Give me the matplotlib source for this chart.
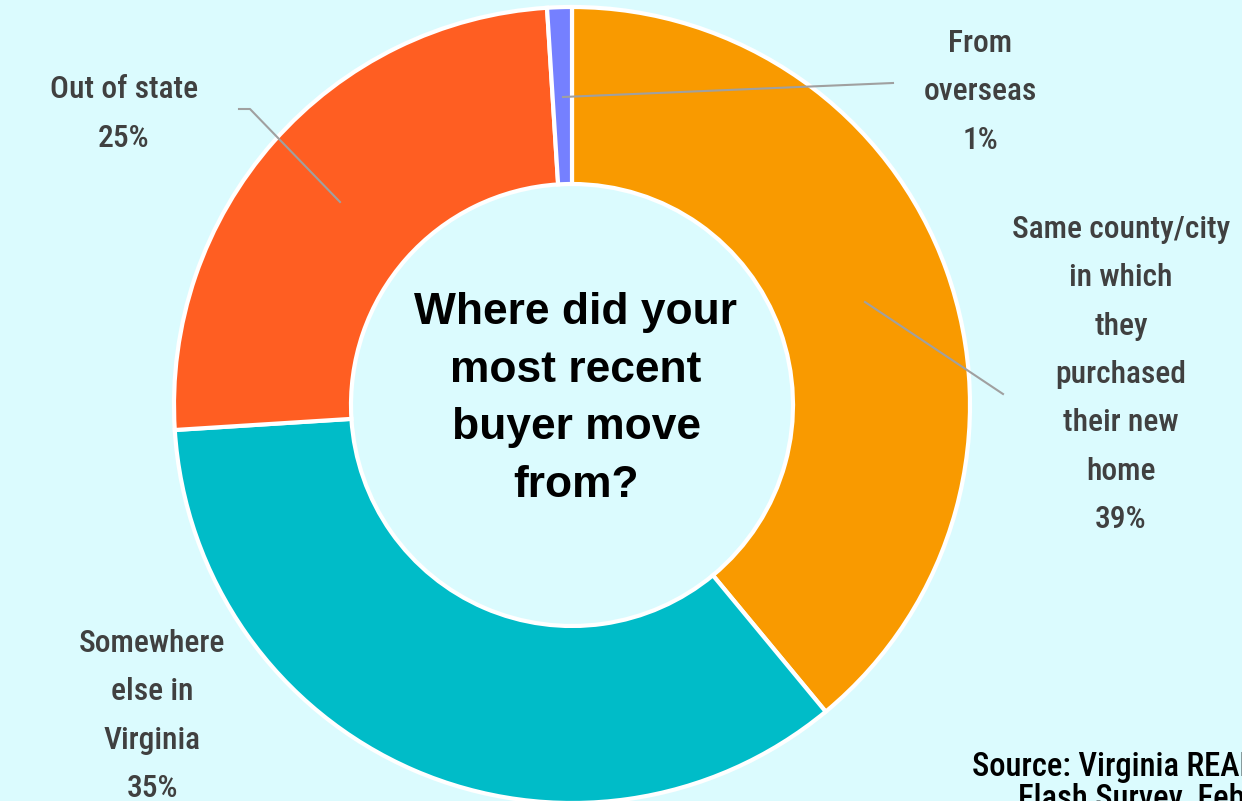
import matplotlib
matplotlib.use("Agg")
import matplotlib.pyplot as plt
from matplotlib import font_manager as fm

categories = ["Same county/city\nin which\nthey\npurchased\ntheir new\nhome",
              "Somewhere\nelse in\nVirginia",
              "Out of state",
              "From\noverseas"]
values = [39, 35, 25, 1]
colors = ["#F99A00", "#00BCC8", "#FF5E22", "#7580FF"]
center_title = "Where did your\nmost recent\nbuyer move\nfrom?"
source_lines = ["Source: Virginia REALTORS®", "Flash Survey, February 2021"]


def pick_weighted(cands, weights=(500, 600, 700)):
    avail = {}
    for f in fm.fontManager.ttflist:
        avail.setdefault(f.name, set()).add(f.weight if isinstance(f.weight, int) else 400)
    for c in cands:
        if c in avail:
            for w in weights:
                if w in avail[c]:
                    return c, w
    return "DejaVu Sans", 'bold'


LAB_FONT, LAB_W = pick_weighted(["Roboto Condensed", "Fira Sans Condensed",
                                 "Barlow Semi Condensed", "IBM Plex Sans Condensed",
                                 "Archivo Narrow", "PT Sans Narrow", "Roboto"])
TITLE_FONT = "Liberation Sans"
plt.rcParams['font.family'] = [LAB_FONT, "DejaVu Sans"]

W, H = 1242, 801
bg = "#DBFBFE"
fig = plt.figure(figsize=(W/100, H/100), dpi=100, facecolor=bg)
ax = fig.add_axes([0, 0, 1, 1])
ax.set_facecolor(bg)

cx, cy = 572, H - 405
R, r_in = 398, 221
wedges, _ = ax.pie(values, colors=colors, startangle=90, counterclock=False,
                   radius=R, center=(cx, cy), frame=True,
                   wedgeprops=dict(width=R - r_in, edgecolor="white", linewidth=3))
ax.set_xlim(0, W)
ax.set_ylim(0, H)
ax.set_aspect('equal')
ax.axis('off')

renderer = fig.canvas.get_renderer()


def fit_size(text, family, weight, target_px):
    t = fig.text(0, 0, text, fontsize=10, family=[family, "DejaVu Sans"], fontweight=weight)
    w = t.get_window_extent(renderer).width
    t.remove()
    return 10 * target_px / w


def Y(y):
    return H - y

lab_color = "#404040"
fs = fit_size("Same county/city", LAB_FONT, LAB_W, 216)
title_fs = fit_size("Where did your", TITLE_FONT, 'bold', 325)
src_fs = fit_size("Source: Virginia", LAB_FONT, LAB_W, 206)


def block(x, y0, step, lines, **kw):
    for i, s in enumerate(lines):
        ax.text(x, Y(y0 + i * step), s, ha='center', va='baseline', **kw)

lkw = dict(fontsize=fs, color=lab_color, fontweight=LAB_W, family=[LAB_FONT, "DejaVu Sans"])
block(1121, 238, 48.3, categories[0].split("\n") + [f"{values[0]}%"], **lkw)
block(152, 652, 48.3, categories[1].split("\n") + [f"{values[1]}%"], **lkw)
block(124, 98, 49, categories[2].split("\n") + [f"{values[2]}%"], **lkw)
block(980, 52, 48.3, categories[3].split("\n") + [f"{values[3]}%"], **lkw)

# leader lines
lc = "#A0A0A0"
ax.plot([563, 893], [Y(97), Y(83)], color=lc, lw=1.5)
ax.plot([865, 1003], [Y(302), Y(394)], color=lc, lw=1.5)
ax.plot([340, 250, 239], [Y(202), Y(109), Y(109)], color=lc, lw=1.5)

block(576, 324, 57.7, center_title.split("\n"), fontsize=title_fs, fontweight='bold',
      color='black', family=[TITLE_FONT, "DejaVu Sans"])

ax.text(972, Y(776), source_lines[0], ha='left', va='baseline', fontsize=src_fs,
        color='black', fontweight=LAB_W, family=[LAB_FONT, "DejaVu Sans"])
ax.text(1018, Y(808), source_lines[1], ha='left', va='baseline', fontsize=src_fs,
        color='black', fontweight=LAB_W, family=[LAB_FONT, "DejaVu Sans"])

fig.savefig("out.png", dpi=100, facecolor=bg)
